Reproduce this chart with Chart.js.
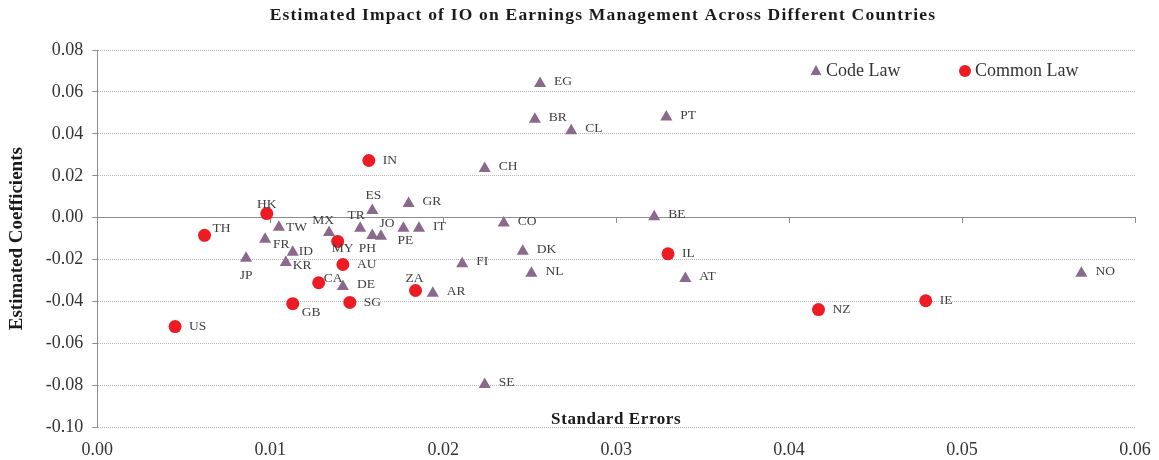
<!DOCTYPE html>
<html>
<head>
<meta charset="utf-8">
<script src="https://cdn.jsdelivr.net/npm/chart.js@4/dist/chart.umd.min.js"></script>
<style>
html,body{margin:0;padding:0;background:#fff;}
#wrap{width:1159px;height:460px;position:relative;}
</style>
</head>
<body>
<div id="wrap"><canvas id="c" width="1159" height="460"></canvas></div>
<script>
// ---- data ----
const codeLabels = ['EG','BR','CL','PT','CH','GR','ES','CO','BE','TR','JO','PH','MX','PE','IT','TW','FR','ID','KR','JP','DE','AR','FI','DK','NL','AT','SE','NO'];
const codeX = [0.0256,0.0253,0.0274,0.0329,0.0224,0.0180,0.0159,0.0235,0.0322,0.0152,0.0164,0.0159,0.0134,0.0177,0.0186,0.0105,0.0097,0.0113,0.0109,0.0086,0.0142,0.0194,0.0211,0.0246,0.0251,0.0340,0.0224,0.0569];
const codeY = [0.0640,0.0470,0.0415,0.0480,0.0235,0.0068,0.0035,-0.0025,0.0005,-0.0050,-0.0088,-0.0085,-0.0070,-0.0050,-0.0050,-0.0045,-0.0103,-0.0165,-0.0213,-0.0193,-0.0328,-0.0360,-0.0220,-0.0160,-0.0265,-0.0290,-0.0795,-0.0265];

const commonLabels = ['IN','HK','TH','MY','AU','CA','GB','SG','ZA','US','IL','NZ','IE'];
const commonX = [0.0157,0.0098,0.0062,0.0139,0.0142,0.0128,0.0113,0.0146,0.0184,0.0045,0.0330,0.0417,0.0479];
const commonY = [0.0273,0.0020,-0.0084,-0.0113,-0.0223,-0.0310,-0.0410,-0.0404,-0.0347,-0.0519,-0.0172,-0.0438,-0.0396];

const seriesNames = ['Code Law','Common Law'];
const xTicks = {min:0, max:0.06, step:0.01};
const yTicks = {min:-0.10, max:0.08, step:0.02};
const chartTitle = 'Estimated Impact of IO on Earnings Management Across Different Countries';
const xTitle = 'Standard Errors';
const yTitle = 'Estimated Coefficients';

// ---- styles ----
const PURPLE = '#8a6a8c';
const RED = '#ed1c24';
const SERIF = '"Liberation Serif", "Times New Roman", serif';
// label offsets [dx, dy, align] relative to marker pixel position
const labelOffsets = {
  HK:[0,-9,'center'], ES:[1,-15,'center'], TR:[-4,-13,'center'], MX:[-6,-12,'center'],
  JO:[6,-13,'center'], PE:[2,12,'center'], PH:[-5,13,'center'], MY:[5,7,'center'],
  FR:[8,5,'left'], ID:[6,-1,'left'], KR:[7,3,'left'], JP:[0,17,'center'], TW:[7,0,'left'],
  TH:[8,-7,'left'], GB:[9,9,'left'], CA:[5,-4,'left'], ZA:[-1,-12,'center']
};

const toPts = (xs, ys, ls) => xs.map((x,i)=>({x:x, y:ys[i], name:ls[i]}));

const decoPlugin = {
  id:'deco',
  afterDatasetsDraw(chart){
    const ctx = chart.ctx, ca = chart.chartArea;
    ctx.save();
    // point labels
    ctx.font = '13.5px ' + SERIF;
    ctx.fillStyle = '#404040';
    ctx.textBaseline = 'middle';
    chart.data.datasets.forEach((ds, di)=>{
      const meta = chart.getDatasetMeta(di);
      const tri = ds.pointStyle === 'triangle';
      meta.data.forEach((el, i)=>{
        const name = ds.data[i].name;
        const off = labelOffsets[name] || (tri ? [14,-2,'left'] : [14,0,'left']);
        ctx.textAlign = off[2];
        ctx.fillText(name, el.x + off[0], el.y + off[1]);
      });
    });
    // title
    ctx.font = 'bold 17.5px ' + SERIF;
    ctx.fillStyle = '#1a1a1a';
    ctx.textAlign = 'left';
    ctx.letterSpacing = '1.2px';
    const tw = ctx.measureText(chartTitle).width;
    ctx.fillText(chartTitle, 603 - tw/2, 15);
    // x axis title (inside plot)
    ctx.font = 'bold 17px ' + SERIF;
    ctx.letterSpacing = '0.6px';
    const xw = ctx.measureText(xTitle).width;
    ctx.fillText(xTitle, (ca.left + ca.right)/2 - xw/2, ca.bottom - 8);
    ctx.letterSpacing = '0px';
    // legend
    const ly = 71;
    ctx.fillStyle = PURPLE;
    ctx.beginPath();
    ctx.moveTo(816, ly-6); ctx.lineTo(821.5, ly+4); ctx.lineTo(810.5, ly+4); ctx.closePath(); ctx.fill();
    ctx.fillStyle = RED;
    ctx.beginPath(); ctx.arc(965, ly, 6, 0, Math.PI*2); ctx.fill();
    ctx.font = '18px ' + SERIF;
    ctx.fillStyle = '#333';
    ctx.textAlign = 'left';
    ctx.fillText(seriesNames[0], 826, ly);
    ctx.fillText(seriesNames[1], 975, ly);
    ctx.restore();
  }
};

const fmt = v => (Math.abs(v) < 1e-9 ? 0 : v).toFixed(2);

new Chart(document.getElementById('c'), {
  type:'scatter',
  data:{
    datasets:[
      {label:seriesNames[0], data:toPts(codeX, codeY, codeLabels), pointStyle:'triangle', pointRadius:7, pointHoverRadius:7,
       backgroundColor:PURPLE, borderColor:PURPLE, borderWidth:0},
      {label:seriesNames[1], data:toPts(commonX, commonY, commonLabels), pointStyle:'circle', pointRadius:6.5, pointHoverRadius:6.5,
       backgroundColor:RED, borderColor:RED, borderWidth:0}
    ]
  },
  options:{
    responsive:false, animation:false, devicePixelRatio:1,
    layout:{padding:{top:50, right:24, left:6, bottom:-5}},
    plugins:{legend:{display:false}, tooltip:{enabled:false}, title:{display:false}},
    scales:{
      x:{
        type:'linear', position:'bottom', min:xTicks.min, max:xTicks.max,
        grid:{display:false},
        border:{display:false},
        ticks:{stepSize:xTicks.step, callback:fmt, color:'#333', padding:4, font:{family:SERIF, size:18}, maxRotation:0}
      },
      x2:{
        type:'linear', position:{y:0}, min:xTicks.min, max:xTicks.max,
        grid:{display:true, drawOnChartArea:false, drawTicks:true, tickLength:5, tickColor:'#8c8c8c'},
        border:{display:true, color:'#8c8c8c', width:1},
        ticks:{stepSize:xTicks.step, display:false}
      },
      y:{
        type:'linear', min:yTicks.min, max:yTicks.max,
        grid:{
          color: c => (Math.abs(c.tick.value) < 1e-9 ? '#8c8c8c' : '#b5b5b5'),
          tickColor:'#8c8c8c', tickLength:5, tickBorderDash:[]
        },
        border:{display:true, color:'#8c8c8c', width:1, dash: c => (c.tick && Math.abs(c.tick.value) < 1e-9 ? [] : [1,1])},
        ticks:{stepSize:yTicks.step, callback:fmt, color:'#333', padding:9, font:{family:SERIF, size:18}},
        title:{display:true, text:yTitle, color:'#1a1a1a', font:{family:SERIF, size:19, weight:'bold'}, padding:{top:0, bottom:8}}
      }
    }
  },
  plugins:[decoPlugin]
});
</script>
</body>
</html>
